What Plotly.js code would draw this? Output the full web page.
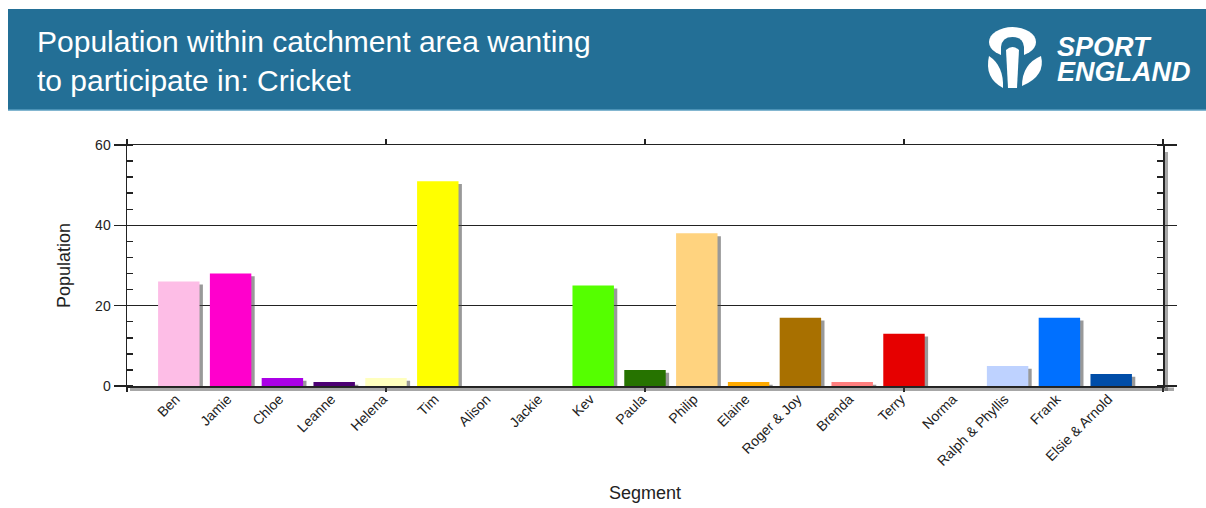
<!DOCTYPE html>
<html>
<head>
<meta charset="utf-8">
<script src="https://cdn.plot.ly/plotly-3.0.1.min.js"></script>
<style>
  html, body { margin: 0; padding: 0; background: #ffffff; }
  #chart { width: 1206px; height: 508px; }
</style>
</head>
<body>
<div id="chart"></div>
<script>
// ---- Data ----
const segments = ["Ben", "Jamie", "Chloe", "Leanne", "Helena", "Tim", "Alison", "Jackie", "Kev", "Paula",
                  "Philip", "Elaine", "Roger & Joy", "Brenda", "Terry", "Norma", "Ralph & Phyllis", "Frank", "Elsie & Arnold"];
const population = [26, 28, 2, 1, 2, 51, 0, 0, 25, 4, 38, 1, 17, 1, 13, 0, 5, 17, 3];
const segmentColors = ["#fdbde6", "#ff00cc", "#aa00e6", "#4c0073", "#ffffbe", "#ffff00", "#c500ff", "#73004c", "#55ff00", "#267300",
                       "#ffd37f", "#ffaa00", "#a87000", "#ff7f7f", "#e60000", "#730000", "#bed2ff", "#0070ff", "#004da8"];
const yTicks = [0, 20, 40, 60];
const chartTitle = "Population within catchment area wanting<br>to participate in: Cricket";

// ---- Geometry helpers (pixel -> paper) ----
const W = 1206, H = 508;
const L = 127, R = 1163, T = 145, B = 386;
const px = x => (x - L) / (R - L);
const py = y => (B - y) / (B - T);
const pt = (x, y) => px(x).toFixed(5) + "," + py(y).toFixed(5);

const idx = segments.map((_, i) => i);
const FONT = "Liberation Sans, Arial, sans-serif";
const BLUE = "#236f96";

const shadowTrace = {
  type: "bar", x: idx, y: population, base: -0.7, width: 0.8, offset: -0.4 + 0.065,
  marker: { color: "rgba(70,70,70,0.55)", line: { width: 0 } },
  textposition: "none", hoverinfo: "skip", showlegend: false
};
const barTrace = {
  type: "bar", x: idx, y: population, width: 0.8,
  marker: { color: segmentColors, line: { width: 0 } },
  textposition: "none", showlegend: false, customdata: segments,
  hovertemplate: "%{customdata}: %{y}<extra></extra>"
};
const tickTrace = { type: "scatter", x: [], y: [], xaxis: "x2", yaxis: "y", showlegend: false };

const shapes = [
  // banner
  { type: "rect", xref: "paper", yref: "paper", x0: px(8), x1: px(1206), y0: py(110), y1: py(9),
    fillcolor: BLUE, line: { width: 0 }, layer: "above" },
  { type: "line", xref: "paper", yref: "paper", x0: px(8), x1: px(1206), y0: py(110), y1: py(110),
    line: { color: "#5a9ec0", width: 1.5 }, layer: "above" },
  // axis shadows
  { type: "rect", xref: "paper", yref: "paper", x0: px(130), x1: px(1174), y0: py(391), y1: py(387.5),
    fillcolor: "rgba(60,60,60,0.45)", line: { width: 0 }, layer: "above" },
  { type: "rect", xref: "paper", yref: "paper", x0: px(1164.5), x1: px(1168), y0: py(391), y1: py(152),
    fillcolor: "rgba(60,60,60,0.45)", line: { width: 0 }, layer: "above" },
  // logo icon: head
  { type: "circle", xref: "paper", yref: "paper", x0: px(989), x1: px(1036), y0: py(57), y1: py(27),
    fillcolor: "#ffffff", line: { width: 0 }, layer: "above" },
  { type: "path", xref: "paper", yref: "paper", layer: "above", fillcolor: BLUE, line: { width: 0 },
    path: "M" + pt(1001, 60) + " L" + pt(1001, 47) + " Q" + pt(1002, 37) + " " + pt(1012.5, 37) +
          " Q" + pt(1023, 37) + " " + pt(1024, 47) + " L" + pt(1024, 60) + " Z" },
  // stem
  { type: "path", xref: "paper", yref: "paper", layer: "above", fillcolor: "#ffffff", line: { width: 0 },
    path: "M" + pt(1006, 50) + " Q" + pt(1012.5, 44) + " " + pt(1019, 50) + " L" + pt(1017, 88) + " L" + pt(1008, 88) + " Z" },
  // leaves
  { type: "path", xref: "paper", yref: "paper", layer: "above", fillcolor: "#ffffff", line: { width: 0 },
    path: "M" + pt(989, 56) + " Q" + pt(984, 78) + " " + pt(1003, 88) + " Q" + pt(1004, 66) + " " + pt(989, 56) + " Z" },
  { type: "path", xref: "paper", yref: "paper", layer: "above", fillcolor: "#ffffff", line: { width: 0 },
    path: "M" + pt(1041, 56) + " Q" + pt(1046, 76) + " " + pt(1022, 86) + " Q" + pt(1022, 64) + " " + pt(1041, 56) + " Z" }
];

const annotations = [
  { xref: "paper", yref: "paper", x: px(1055), y: py(60), xanchor: "left", yanchor: "middle", align: "left", showarrow: false,
    text: '<span style="font-size:27px">SPORT</span><br><span style="font-size:27px">ENGLAND</span>',
    font: { family: FONT, size: 19.5, color: "#ffffff", weight: "bold", style: "italic" } }
];

const layout = {
  width: W, height: H,
  margin: { l: L, r: W - R, t: T, b: H - B, pad: 0 },
  paper_bgcolor: "#ffffff", plot_bgcolor: "rgba(0,0,0,0)",
  font: { family: FONT, color: "#222222" },
  barmode: "overlay",
  title: { text: chartTitle, x: 37 / W, xanchor: "left", xref: "container", y: 1 - 52 / H, yanchor: "top", yref: "container",
           font: { family: FONT, size: 30, color: "#ffffff" } },
  xaxis: {
    range: [-1, 19], tickvals: idx, ticktext: segments, tickangle: -45,
    ticks: "", ticklabelstandoff: -2, ticklabelshift: -3,
    showline: true, linecolor: "#222222", linewidth: 1.5, mirror: true,
    showgrid: false, zeroline: false, automargin: false,
    tickfont: { family: FONT, size: 14, color: "#222222" },
    title: { text: "Segment", font: { family: FONT, size: 18, color: "#222222" }, standoff: 18 }
  },
  xaxis2: {
    overlaying: "x", anchor: "y", side: "bottom", range: [-1, 19],
    tickvals: [-1, 4, 9, 14, 19], ticks: "outside", ticklen: 5, tickwidth: 1.5, tickcolor: "#222222",
    mirror: "ticks", showline: false, showticklabels: false, showgrid: false, zeroline: false, automargin: false
  },
  yaxis: {
    range: [0, 60], tickvals: yTicks, ticks: "outside", ticklen: 12, tickwidth: 1.5, tickcolor: "#222222",
    showline: true, linecolor: "#222222", linewidth: 1.5, mirror: "ticks",
    showgrid: true, gridcolor: "#222222", gridwidth: 1.2, zeroline: false, automargin: false,
    minor: { dtick: 4, tick0: 0, ticks: "inside", ticklen: 6, tickwidth: 1.5, tickcolor: "#222222", showgrid: false },
    tickfont: { family: FONT, size: 14, color: "#222222" },
    title: { text: "Population", font: { family: FONT, size: 18, color: "#222222" }, standoff: 20 }
  },
  shapes: shapes,
  annotations: annotations
};

Plotly.newPlot("chart", [shadowTrace, barTrace, tickTrace], layout, { displayModeBar: false, staticPlot: true });
</script>
</body>
</html>
